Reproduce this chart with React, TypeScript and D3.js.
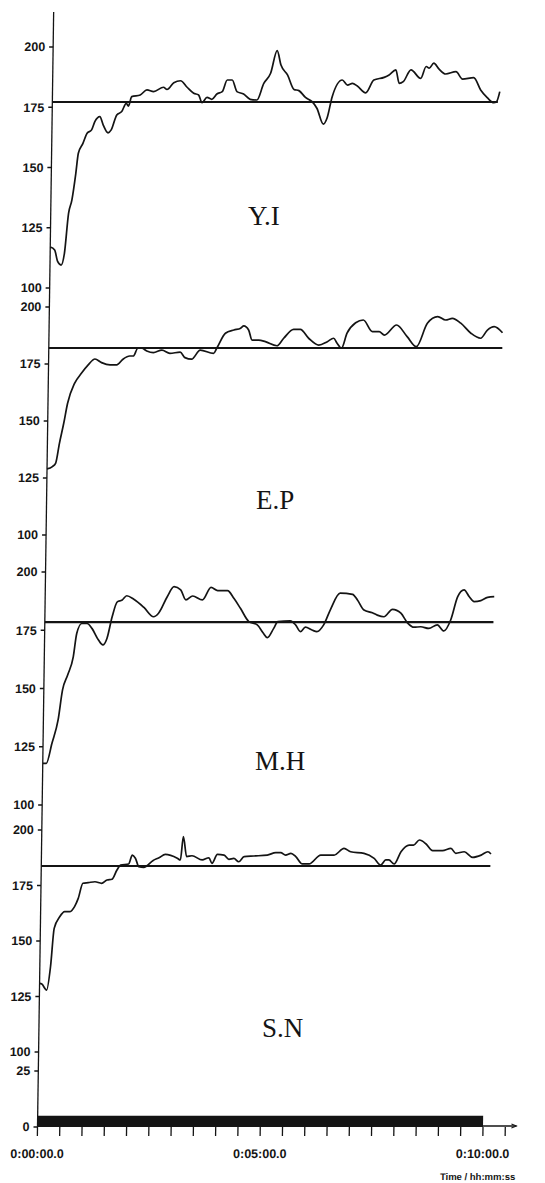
import React from "react";
import * as d3 from "d3";

// ---------- DATA ----------
const panelNames = ["Y.I", "E.P", "M.H", "S.N"];
const yTickValues = [100, 125, 150, 175, 200];
const workTickValues = [0, 25];
const setpoints = [177.2, 182, 178.5, 183.8];
const setpointEnds = [10.0, 10.18, 10.07, 10.08];

const seriesYI: [number, number][] = [
  [0, 117], [0.1, 115.8], [0.17, 111], [0.25, 109.5], [0.32, 114.4], [0.4, 131], [0.47, 136.5], [0.55, 147.6],
  [0.6, 155.9], [0.7, 160], [0.79, 164.2], [0.89, 165.6], [0.96, 169], [1.07, 171.1], [1.15, 167.6], [1.26, 164.4],
  [1.33, 165.6], [1.45, 171.8], [1.56, 173.2], [1.66, 176.6], [1.71, 175.5], [1.78, 179.4], [1.97, 180.1], [2.12, 182.2],
  [2.27, 181.5], [2.49, 183.3], [2.57, 182.4], [2.72, 185.2], [2.87, 186], [3.02, 183.3], [3.17, 180.8], [3.28, 180.1],
  [3.36, 176.9], [3.47, 179.1], [3.58, 178.3], [3.69, 180.5], [3.81, 181.5], [3.92, 186.3], [4.03, 186.3], [4.14, 181.5],
  [4.29, 180.5], [4.44, 178.3], [4.59, 178], [4.74, 184.9], [4.89, 189.1], [5.03, 198.5], [5.12, 192.5], [5.27, 188.4],
  [5.42, 182.4], [5.53, 181.9], [5.68, 179.1], [5.83, 177.3], [5.94, 174.6], [6.09, 168], [6.17, 170.4], [6.28, 179.4],
  [6.5, 186.3], [6.62, 184.2], [6.73, 184.9], [6.84, 183.8], [7.03, 181], [7.21, 186.3], [7.44, 187.4], [7.55, 188.4],
  [7.7, 190.5], [7.78, 184.9], [7.87, 185.6], [8.04, 190.5], [8.26, 187], [8.38, 191.9], [8.45, 191.2], [8.55, 193.3],
  [8.67, 190.8], [8.82, 188.8], [9.05, 189.8], [9.2, 186.7], [9.45, 187.3], [9.61, 182.2], [9.76, 179], [9.91, 176.9],
  [9.97, 177.3], [10.04, 181.5],
];

const seriesEP: [number, number][] = [
  [0, 129], [0.12, 130], [0.19, 131.4], [0.27, 140.2], [0.36, 149], [0.44, 157.8], [0.59, 166.5], [0.74, 170.9],
  [0.89, 174.6], [1.04, 177.2], [1.19, 175.6], [1.38, 174.6], [1.53, 174.6], [1.67, 177.1], [1.82, 178.5], [1.9, 178.5],
  [2.0, 181.9], [2.09, 181.9], [2.2, 180.7], [2.35, 180], [2.54, 181.1], [2.72, 179.7], [2.95, 180.2], [3.06, 177.8],
  [3.21, 177.1], [3.4, 181.1], [3.7, 179.7], [3.77, 181.9], [3.96, 188.5], [4.15, 189.9], [4.3, 190.7], [4.37, 191.7],
  [4.48, 189.9], [4.56, 185.5], [4.71, 185.5], [4.86, 184.8], [5.12, 183], [5.27, 186.3], [5.49, 190.2], [5.64, 190.2],
  [5.83, 186.3], [6.06, 183.3], [6.25, 184.8], [6.39, 186.3], [6.47, 184.1], [6.57, 181.9], [6.69, 188.5], [6.88, 193.1],
  [7.05, 194.3], [7.26, 189.2], [7.41, 189.2], [7.53, 187.7], [7.8, 192.1], [8.04, 187], [8.25, 182.6], [8.49, 192.9],
  [8.72, 195.8], [8.9, 194.3], [9.05, 195], [9.24, 192.9], [9.47, 188.5], [9.69, 186.3], [9.84, 189.9], [9.99, 191.4],
  [10.18, 188.7],
];

const seriesMH: [number, number][] = [
  [0, 117.9], [0.08, 117.9], [0.2, 126.5], [0.33, 136.5], [0.42, 149.4], [0.53, 155.8], [0.65, 163.6], [0.72, 173.6],
  [0.83, 177.9], [0.95, 177.9], [1.06, 175.8], [1.21, 170.8], [1.31, 168.7], [1.4, 171.5], [1.51, 180.8], [1.62, 187.2],
  [1.73, 188], [1.83, 189.8], [1.99, 188.3], [2.22, 184.8], [2.44, 180.8], [2.55, 182.3], [2.74, 189.4], [2.89, 193.7],
  [3.04, 192.3], [3.16, 188], [3.31, 189.7], [3.53, 188], [3.72, 193.4], [3.87, 192], [4.09, 192], [4.24, 188.6],
  [4.39, 184.3], [4.58, 178.7], [4.77, 177.3], [4.91, 173.7], [5.0, 171.8], [5.14, 175.8], [5.23, 178.7], [5.51, 179],
  [5.63, 177.3], [5.74, 174.4], [5.85, 176.3], [6.0, 175.1], [6.11, 174.4], [6.26, 177.3], [6.41, 184], [6.62, 190.9],
  [6.9, 190.4], [7.01, 188], [7.16, 183.7], [7.35, 182.5], [7.46, 181.5], [7.61, 180.8], [7.8, 184], [7.99, 182.3],
  [8.14, 178.2], [8.29, 176.3], [8.44, 176.5], [8.62, 175.8], [8.81, 177.3], [8.96, 174.7], [9.11, 179.4], [9.26, 189.4],
  [9.4, 192.3], [9.52, 189.4], [9.63, 187.3], [9.78, 187.7], [9.93, 189.1], [10.08, 189.4],
];

const seriesSN: [number, number][] = [
  [0, 130.9], [0.05, 130.6], [0.16, 127.9], [0.24, 138.4], [0.31, 155.7], [0.43, 160.9], [0.54, 163.2], [0.65, 163.2],
  [0.76, 165.5], [0.84, 169.2], [0.94, 176], [1.06, 176.3], [1.21, 176.7], [1.36, 176], [1.48, 177.5], [1.59, 177.8],
  [1.7, 182], [1.78, 184.2], [1.96, 184.7], [2.04, 188.7], [2.11, 187.3], [2.19, 183.5], [2.3, 183.2], [2.51, 186.3],
  [2.64, 187.5], [2.78, 189], [3.05, 187.3], [3.12, 186.5], [3.18, 197], [3.26, 188], [3.38, 188.4], [3.61, 186.5],
  [3.76, 187.5], [3.83, 185], [3.95, 189], [4.1, 188.7], [4.21, 186.8], [4.32, 187.2], [4.43, 185.7], [4.55, 188],
  [4.77, 188.3], [5.07, 188.7], [5.26, 189.8], [5.37, 189.8], [5.48, 188.7], [5.6, 189.5], [5.71, 188], [5.86, 184.7],
  [6.01, 184.7], [6.27, 188.7], [6.57, 188.7], [6.79, 191.7], [6.94, 190.2], [7.24, 189.5], [7.47, 187.2], [7.62, 184.2],
  [7.73, 186.5], [7.8, 186.5], [7.92, 184.7], [8.07, 190.2], [8.25, 193.2], [8.35, 193.2], [8.48, 195.5], [8.63, 193.7],
  [8.78, 190.7], [9.0, 190.7], [9.19, 191.7], [9.3, 189.5], [9.49, 190.2], [9.68, 187.7], [9.87, 188.7], [10.02, 190.2],
  [10.09, 189.2],
];

const panelSeries = [seriesYI, seriesEP, seriesMH, seriesSN];

// workload bar (bottom strip, 0–25 scale)
const workBlocks = [{ start: 0, end: 10, level: 5 }];
const workAfter = { start: 10, end: 10.75, level: 0 };

const xTickMinutes = [0, 0.5, 1, 1.5, 2, 2.5, 3, 3.5, 4, 4.5, 5, 5.5, 6, 6.5, 7, 7.5, 8, 8.5, 9, 9.5, 10, 10.5];
const xLabelMinutes = [0, 5, 10];
const xLabelTexts = ["0:00:00.0", "0:05:00.0", "0:10:00.0"];
const xAxisTitle = "Time / hh:mm:ss";

// ---------- LAYOUT ----------
const W = 545;
const H = 1183;
const AXIS_Y = 1127;
const SHEAR_DEG = -0.83;
const panelLayout = [
  { y100: 288, y200: 47 },
  { y100: 535, y200: 307 },
  { y100: 805, y200: 572 },
  { y100: 1052, y200: 830 },
];
const titlePos = [
  { x: 248, y: 225 },
  { x: 256, y: 509 },
  { x: 255, y: 770 },
  { x: 262, y: 1037 },
];
const INK = "#141414";
const SANS = "'Liberation Sans', Arial, sans-serif";
const SERIF = "'Liberation Serif', 'Times New Roman', serif";
const TICK_FS = 12.5;

export default function App() {
  const x = d3.scaleLinear().domain([0, 10]).range([37.5, 483]);
  const yWork = d3.scaleLinear().domain([0, 25]).range([AXIS_Y, 1071]);
  const axisX = x(0);

  const panels = panelLayout.map((p, i) => {
    const y = d3.scaleLinear().domain([100, 200]).range([p.y100, p.y200]);
    const line = d3
      .line<[number, number]>()
      .x((d) => x(d[0]))
      .y((d) => y(d[1]))
      .curve(d3.curveMonotoneX);
    return { y, path: line(panelSeries[i]) || "", i };
  });

  const shear = `translate(0,${AXIS_Y}) skewX(${SHEAR_DEG}) translate(0,${-AXIS_Y})`;

  return (
    <svg
      width={W}
      height={H}
      viewBox={`0 0 ${W} ${H}`}
      style={{ position: "absolute", left: 0, top: 0, background: "#fff" }}
    >
      <rect x={0} y={0} width={W} height={H} fill="#fff" />
      <g transform={shear}>
        {/* vertical axis */}
        <line x1={axisX} x2={axisX} y1={12} y2={AXIS_Y} stroke={INK} strokeWidth={1.3} />

        {panels.map(({ y, path, i }) => (
          <g key={panelNames[i]}>
            {yTickValues.map((v) => (
              <g key={v}>
                <line x1={axisX - 4} x2={axisX} y1={y(v)} y2={y(v)} stroke={INK} strokeWidth={1.3} />
                <text
                  x={axisX - 8}
                  y={y(v)}
                  dy="0.35em"
                  textAnchor="end"
                  fontFamily={SANS}
                  fontWeight="bold"
                  fontSize={TICK_FS}
                  fill={INK}
                >
                  {v}
                </text>
              </g>
            ))}
            <line
              x1={axisX}
              x2={x(setpointEnds[i])}
              y1={y(setpoints[i])}
              y2={y(setpoints[i])}
              stroke={INK}
              strokeWidth={2.1}
            />
            <path d={path} fill="none" stroke={INK} strokeWidth={1.7} strokeLinejoin="round" />
          </g>
        ))}

        {/* work strip */}
        {workTickValues.map((v) => (
          <g key={"w" + v}>
            <line x1={axisX - 4} x2={axisX} y1={yWork(v)} y2={yWork(v)} stroke={INK} strokeWidth={1.3} />
            <text
              x={axisX - 8}
              y={yWork(v)}
              dy="0.35em"
              textAnchor="end"
              fontFamily={SANS}
              fontWeight="bold"
              fontSize={TICK_FS}
              fill={INK}
            >
              {v}
            </text>
          </g>
        ))}
        {workBlocks.map((b, k) => (
          <rect
            key={k}
            x={x(b.start)}
            y={yWork(b.level)}
            width={x(b.end) - x(b.start)}
            height={yWork(0) - yWork(b.level)}
            fill={INK}
          />
        ))}

        {/* x axis */}
        <line x1={axisX} x2={x(workAfter.end)} y1={AXIS_Y - 1} y2={AXIS_Y - 1} stroke={INK} strokeWidth={1.3} />
        <path
          d={`M${x(workAfter.end) - 5},${AXIS_Y - 3} L${x(workAfter.end)},${AXIS_Y - 1} L${x(workAfter.end) - 5},${AXIS_Y + 1}`}
          fill="none"
          stroke={INK}
          strokeWidth={1}
        />
        {xTickMinutes.map((t) => (
          <line key={t} x1={x(t)} x2={x(t)} y1={AXIS_Y} y2={AXIS_Y + 9} stroke={INK} strokeWidth={1.3} />
        ))}
        {xLabelMinutes.map((t, k) => (
          <text
            key={"xl" + t}
            x={x(t)}
            y={1158}
            textAnchor="middle"
            fontFamily={SANS}
            fontWeight="bold"
            fontSize={12.5}
            fill={INK}
          >
            {xLabelTexts[k]}
          </text>
        ))}
        <text x={516} y={1180} textAnchor="end" fontFamily={SANS} fontWeight="bold" fontSize={9.5} fill={INK}>
          {xAxisTitle}
        </text>
      </g>

      {panelNames.map((name, i) => (
        <text
          key={"t" + name}
          x={titlePos[i].x}
          y={titlePos[i].y}
          fontFamily={SERIF}
          fontSize={27}
          fill={INK}
        >
          {name}
        </text>
      ))}
    </svg>
  );
}
